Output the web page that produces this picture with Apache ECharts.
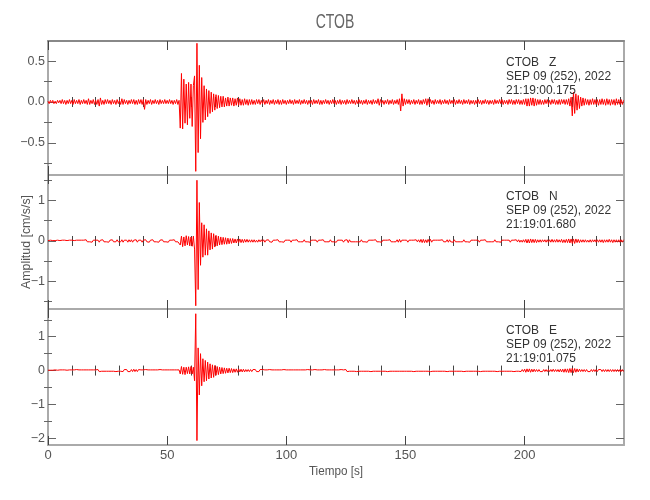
<!DOCTYPE html>
<html>
<head>
<meta charset="utf-8">
<script src="https://cdn.jsdelivr.net/npm/echarts@6/dist/echarts.min.js"></script>
<style>html,body{margin:0;padding:0;background:#fff}#c{width:650px;height:500px}</style>
</head>
<body>
<div id="c"></div>
<script>
// ---- data ----
const DT = 0.5;            // sample step of the arrays below [s]
const X_MAX = 241.7;
const xMajorTicks = [0, 50, 100, 150, 200];
const xMinorTicks = [10,20,30,40,60,70,80,90,110,120,130,140,160,170,180,190,210,220,230,240];
const panelTitles = ['CTOB   Z', 'CTOB   N', 'CTOB   E'];
const panelDates = ['SEP 09 (252), 2022', 'SEP 09 (252), 2022', 'SEP 09 (252), 2022'];
const panelTimes = ['21:19:00.175', '21:19:01.680', '21:19:01.075'];

const traceZ = [
0.01,-0.02,0.02,-0.01,0.02,-0.02,0.01,-0.02,0.02,-0.01,
0.02,-0.02,0.03,-0.02,0.02,-0.03,0.02,-0.02,0.03,-0.02,
0.02,-0.03,0.03,-0.02,0.02,-0.02,0.03,-0.03,0.02,-0.02,
0.03,-0.02,0.02,-0.03,0.04,-0.03,0.02,-0.02,0.03,-0.03,
0.02,-0.03,0.03,-0.05,0.05,-0.03,0.02,-0.03,0.03,-0.02,
0.03,-0.02,0.02,-0.03,0.03,-0.02,0.02,-0.03,0.03,-0.02,
0.02,-0.03,0.04,-0.03,0.03,-0.02,0.02,-0.03,0.02,-0.02,
0.03,-0.02,0.03,-0.03,0.02,-0.03,0.03,-0.02,0.03,-0.03,
0.03,-0.09,0.03,-0.03,0.02,-0.02,0.03,-0.03,0.02,-0.02,
0.03,-0.02,0.02,-0.03,0.03,-0.02,0.02,-0.02,0.03,-0.02,
0.02,-0.02,0.03,-0.02,0.02,-0.03,0.02,-0.02,0.03,-0.03,
0.02,-0.32,0.35,-0.33,0.28,-0.26,0.22,-0.28,0.24,-0.2,
0.22,-0.3,0.2,0.32,-0.85,0.72,-0.62,0.45,-0.45,0.3,
-0.25,0.2,-0.22,0.16,-0.18,0.14,-0.14,0.12,-0.12,0.1,
-0.1,0.09,-0.08,0.08,-0.07,0.07,-0.06,0.07,-0.06,0.05,
-0.05,0.06,-0.05,0.05,-0.04,0.05,-0.05,0.04,-0.04,0.05,
-0.04,0.04,-0.04,0.03,-0.04,0.04,-0.03,0.03,-0.04,0.03,
-0.03,0.03,-0.03,0.02,-0.03,0.03,-0.02,0.03,-0.03,0.02,
-0.02,0.03,-0.03,0.02,-0.02,0.03,-0.03,0.02,-0.02,0.03,
-0.03,0.02,-0.02,0.03,-0.03,0.02,-0.03,0.03,-0.02,0.02,
-0.03,0.02,-0.02,0.03,-0.02,0.02,-0.03,0.03,-0.02,0.02,
-0.02,0.03,-0.03,0.02,-0.02,0.03,-0.02,0.02,-0.03,0.02,
-0.02,0.02,-0.03,0.03,-0.02,0.02,-0.02,0.03,-0.03,0.02,
-0.03,0.02,-0.02,0.03,-0.02,0.02,-0.03,0.02,-0.02,0.03,
-0.02,0.02,-0.03,0.02,-0.02,0.03,-0.03,0.02,-0.02,0.02,
-0.03,0.03,-0.02,0.02,-0.02,0.03,-0.02,0.02,-0.03,0.02,
-0.02,0.03,-0.02,0.02,-0.03,0.02,-0.02,0.03,-0.03,0.02,
-0.02,0.02,-0.03,0.03,-0.02,0.02,-0.02,0.04,-0.04,0.03,
-0.02,0.02,-0.03,0.02,-0.02,0.03,-0.03,0.02,-0.02,0.03,
-0.03,0.02,-0.02,0.03,-0.03,0.04,-0.11,0.1,-0.05,0.04,
-0.03,0.03,-0.02,0.03,-0.03,0.02,-0.02,0.03,-0.03,0.02,
-0.02,0.03,-0.03,0.02,-0.03,0.03,-0.02,0.04,-0.04,0.04,
-0.03,0.03,-0.02,0.02,-0.03,0.03,-0.02,0.02,-0.02,0.03,
-0.03,0.02,-0.02,0.03,-0.02,0.02,-0.03,0.03,-0.02,0.02,
-0.02,0.03,-0.03,0.02,-0.02,0.03,-0.02,0.02,-0.03,0.03,
-0.02,0.02,-0.02,0.03,-0.03,0.02,-0.02,0.02,-0.03,0.02,
-0.02,0.03,-0.02,0.02,-0.03,0.02,-0.02,0.03,-0.02,0.02,
-0.03,0.02,-0.02,0.02,-0.03,0.03,-0.02,0.02,-0.02,0.03,
-0.02,0.03,-0.03,0.02,-0.02,0.02,-0.03,0.03,-0.02,0.03,
-0.03,0.02,-0.03,0.03,-0.02,0.03,-0.03,0.02,-0.03,0.03,
-0.03,0.04,-0.05,0.04,-0.05,0.05,-0.04,0.05,-0.05,0.04,
-0.04,0.03,-0.03,0.03,-0.03,0.02,-0.03,0.03,-0.02,0.03,
-0.03,0.02,-0.03,0.03,-0.02,0.03,-0.03,0.02,-0.03,0.03,
-0.03,0.03,-0.02,0.03,-0.03,0.03,-0.03,0.04,-0.05,0.06,
-0.17,0.12,-0.14,0.1,-0.1,0.08,-0.08,0.06,-0.05,0.05,
-0.04,0.04,-0.03,0.03,-0.04,0.03,-0.03,0.04,-0.03,0.03,
-0.03,0.03,-0.04,0.03,-0.03,0.04,-0.03,0.03,-0.04,0.04,
-0.03,0.03,-0.04,0.03,-0.03,0.03,-0.04,0.04,-0.03,0.03,
-0.03,0.03,-0.03,0.02
];

const traceN = [
0.01,-0.01,0.02,-0.01,0.01,-0.02,0.01,-0.01,0.02,-0.01,
0.01,-0.02,0.02,-0.01,0.02,-0.02,0.01,-0.02,0.02,-0.01,
0.02,-0.02,0.01,-0.02,0.02,-0.01,0.02,-0.02,0.02,-0.02,
0.02,-0.02,0.03,-0.02,0.02,-0.02,0.02,-0.03,0.02,-0.02,
0.02,-0.02,0.02,-0.03,0.02,-0.02,0.03,-0.02,0.02,-0.02,
0.02,-0.03,0.02,-0.02,0.03,-0.02,0.02,-0.02,0.03,-0.02,
0.02,-0.02,0.03,-0.03,0.02,-0.02,0.02,-0.03,0.03,-0.02,
0.03,-0.03,0.02,-0.02,0.03,-0.03,0.02,-0.02,0.02,-0.03,
0.02,-0.02,0.03,-0.02,0.02,-0.03,0.02,-0.02,0.03,-0.02,
0.02,-0.02,0.02,-0.03,0.02,-0.02,0.03,-0.02,0.02,-0.02,
0.02,-0.03,0.02,-0.02,0.02,-0.02,0.03,-0.02,0.02,-0.02,
0.02,-0.1,0.12,-0.14,0.1,-0.12,0.13,-0.1,0.11,-0.12,
0.1,-0.13,0.12,-0.2,-1.6,1.5,-1.2,0.95,-0.6,0.45,
-0.4,0.4,-0.35,0.3,-0.35,0.25,-0.22,0.2,-0.2,0.18,
-0.15,0.14,-0.12,0.12,-0.1,0.1,-0.09,0.09,-0.08,0.08,
-0.08,0.07,-0.07,0.06,-0.06,0.06,-0.05,0.05,-0.05,0.05,
-0.04,0.05,-0.04,0.04,-0.04,0.04,-0.03,0.04,-0.03,0.03,
-0.03,0.03,-0.03,0.03,-0.03,0.02,-0.03,0.03,-0.02,0.03,
-0.02,0.03,-0.03,0.02,-0.02,0.03,-0.02,0.02,-0.03,0.02,
-0.02,0.02,-0.02,0.03,-0.02,0.02,-0.02,0.02,-0.03,0.02,
-0.02,0.02,-0.02,0.02,-0.03,0.02,-0.02,0.02,-0.02,0.03,
-0.02,0.02,-0.02,0.02,-0.02,0.03,-0.02,0.02,-0.02,0.02,
-0.03,0.02,-0.02,0.02,-0.02,0.02,-0.03,0.02,-0.02,0.02,
-0.02,0.03,-0.02,0.02,-0.02,0.02,-0.02,0.03,-0.02,0.02,
-0.02,0.02,-0.03,0.02,-0.02,0.02,-0.02,0.02,-0.03,0.02,
-0.02,0.03,-0.04,0.03,-0.02,0.02,-0.02,0.02,-0.02,0.02,
-0.02,0.02,-0.02,0.03,-0.02,0.02,-0.02,0.02,-0.03,0.02,
-0.02,0.02,-0.02,0.02,-0.02,0.03,-0.02,0.02,-0.02,0.02,
-0.03,0.02,-0.02,0.02,-0.02,0.02,-0.02,0.03,-0.02,0.02,
-0.02,0.02,-0.02,0.03,-0.03,0.04,-0.03,0.02,-0.02,0.02,
-0.02,0.02,-0.03,0.02,-0.02,0.02,-0.02,0.02,-0.02,0.03,
-0.02,0.03,-0.03,0.04,-0.04,0.04,-0.04,0.03,-0.04,0.04,
-0.03,0.04,-0.03,0.02,-0.02,0.02,-0.02,0.02,-0.02,0.02,
-0.02,0.03,-0.02,0.02,-0.02,0.03,-0.03,0.03,-0.02,0.02,
-0.03,0.03,-0.02,0.02,-0.02,0.02,-0.02,0.02,-0.02,0.03,
-0.02,0.02,-0.02,0.02,-0.03,0.02,-0.02,0.02,-0.02,0.02,
-0.02,0.02,-0.03,0.02,-0.02,0.02,-0.02,0.03,-0.02,0.02,
-0.02,0.02,-0.02,0.02,-0.02,0.03,-0.02,0.02,-0.02,0.02,
-0.03,0.02,-0.02,0.02,-0.02,0.02,-0.02,0.02,-0.03,0.02,
-0.02,0.02,-0.02,0.03,-0.02,0.03,-0.03,0.02,-0.03,0.03,
-0.03,0.04,-0.05,0.04,-0.05,0.05,-0.04,0.04,-0.04,0.04,
-0.04,0.03,-0.03,0.03,-0.03,0.03,-0.02,0.03,-0.03,0.03,
-0.03,0.03,-0.03,0.04,-0.03,0.03,-0.03,0.04,-0.03,0.03,
-0.03,0.04,-0.04,0.03,-0.04,0.04,-0.04,0.05,-0.05,0.05,
-0.06,0.05,-0.06,0.05,-0.04,0.04,-0.04,0.03,-0.03,0.03,
-0.03,0.03,-0.03,0.02,-0.03,0.03,-0.03,0.03,-0.02,0.03,
-0.03,0.03,-0.03,0.03,-0.03,0.03,-0.04,0.03,-0.03,0.03,
-0.03,0.04,-0.03,0.03,-0.04,0.03,-0.03,0.03,-0.03,0.03,
-0.03,0.03,-0.03,0.03
];

const traceE = [
0.01,-0.01,0.01,-0.02,0.01,-0.01,0.02,-0.01,0.01,-0.01,
0.02,-0.02,0.02,-0.01,0.02,-0.02,0.01,-0.02,0.02,-0.02,
0.02,-0.02,0.02,-0.02,0.03,-0.02,0.02,-0.02,0.02,-0.02,
0.02,-0.02,0.02,-0.02,0.02,-0.03,0.02,-0.02,0.02,-0.02,
0.02,-0.03,0.03,-0.03,0.02,-0.02,0.02,-0.02,0.02,-0.02,
0.02,-0.02,0.03,-0.02,0.02,-0.02,0.02,-0.03,0.02,-0.02,
0.02,-0.02,0.02,-0.03,0.03,-0.02,0.03,-0.03,0.02,-0.03,
0.03,-0.03,0.04,-0.03,0.03,-0.03,0.03,-0.02,0.02,-0.02,
0.02,-0.02,0.03,-0.02,0.02,-0.02,0.02,-0.02,0.02,-0.03,
0.02,-0.02,0.02,-0.02,0.03,-0.02,0.02,-0.02,0.02,-0.02,
0.02,-0.02,0.02,-0.02,0.02,-0.03,0.02,-0.02,0.02,-0.02,
0.02,-0.1,0.12,-0.11,0.1,-0.12,0.1,-0.09,0.11,-0.1,
0.12,-0.1,0.1,-0.3,1.68,-2.07,0.67,-0.72,0.5,-0.45,
0.35,-0.33,0.3,-0.3,0.25,-0.25,0.2,-0.22,0.17,-0.2,
0.15,-0.14,0.12,-0.12,0.1,-0.1,0.09,-0.09,0.08,-0.08,
0.07,-0.07,0.07,-0.06,0.06,-0.06,0.05,-0.05,0.05,-0.05,
0.05,-0.04,0.04,-0.04,0.04,-0.04,0.03,-0.03,0.03,-0.03,
0.03,-0.03,0.03,-0.02,0.03,-0.03,0.02,-0.03,0.03,-0.02,
0.03,-0.02,0.02,-0.03,0.02,-0.02,0.03,-0.02,0.02,-0.02,
0.02,-0.02,0.02,-0.03,0.02,-0.02,0.02,-0.02,0.03,-0.02,
0.02,-0.02,0.02,-0.02,0.02,-0.03,0.02,-0.02,0.02,-0.02,
0.02,-0.03,0.02,-0.02,0.02,-0.02,0.02,-0.02,0.03,-0.02,
0.02,-0.02,0.02,-0.02,0.03,-0.02,0.02,-0.02,0.02,-0.02,
0.02,-0.02,0.03,-0.02,0.02,-0.02,0.02,-0.03,0.02,-0.02,
0.02,-0.02,0.02,-0.02,0.02,-0.02,0.03,-0.02,0.02,-0.02,
0.03,-0.03,0.02,-0.02,0.02,-0.02,0.02,-0.02,0.02,-0.03,
0.02,-0.02,0.02,-0.02,0.03,-0.02,0.02,-0.02,0.02,-0.02,
0.02,-0.03,0.02,-0.02,0.02,-0.02,0.02,-0.02,0.03,-0.02,
0.02,-0.02,0.02,-0.02,0.02,-0.03,0.02,-0.02,0.02,-0.02,
0.02,-0.02,0.03,-0.02,0.02,-0.02,0.02,-0.02,0.02,-0.02,
0.03,-0.02,0.02,-0.02,0.02,-0.02,0.02,-0.03,0.02,-0.02,
0.02,-0.02,0.02,-0.02,0.03,-0.02,0.02,-0.02,0.02,-0.02,
0.02,-0.03,0.02,-0.02,0.02,-0.02,0.02,-0.02,0.03,-0.02,
0.02,-0.02,0.02,-0.02,0.02,-0.03,0.02,-0.02,0.02,-0.02,
0.02,-0.02,0.03,-0.02,0.02,-0.02,0.02,-0.02,0.02,-0.03,
0.02,-0.02,0.02,-0.02,0.02,-0.02,0.03,-0.02,0.02,-0.02,
0.02,-0.02,0.02,-0.03,0.02,-0.02,0.02,-0.02,0.02,-0.02,
0.03,-0.02,0.02,-0.02,0.02,-0.02,0.02,-0.03,0.02,-0.02,
0.02,-0.02,0.02,-0.02,0.03,-0.02,0.02,-0.02,0.02,-0.02,
0.02,-0.03,0.02,-0.02,0.02,-0.02,0.03,-0.03,0.03,-0.03,
0.04,-0.05,0.05,-0.04,0.05,-0.05,0.04,-0.04,0.04,-0.03,
0.03,-0.03,0.03,-0.03,0.02,-0.03,0.03,-0.03,0.03,-0.03,
0.03,-0.03,0.03,-0.03,0.04,-0.03,0.03,-0.03,0.03,-0.04,
0.04,-0.04,0.04,-0.05,0.05,-0.05,0.05,-0.06,0.06,-0.06,
0.07,-0.06,0.06,-0.05,0.05,-0.04,0.04,-0.03,0.03,-0.03,
0.03,-0.03,0.03,-0.03,0.02,-0.03,0.03,-0.03,0.03,-0.03,
0.03,-0.03,0.03,-0.02,0.03,-0.03,0.03,-0.03,0.03,-0.03,
0.03,-0.03,0.03,-0.03,0.03,-0.03,0.03,-0.03,0.03,-0.03,
0.03,-0.03,0.03,-0.03
];

const yRanges = [[-0.895, 0.748], [-1.68, 1.63], [-2.2, 1.82]];
const yMajorTicks = [[-0.5, 0, 0.5], [-1, 0, 1], [-2, -1, 0, 1]];
const yMinorTicks = [[-0.75, -0.25, 0.25, 0.75], [-1.5, -0.5, 0.5, 1.5], [-1.5, -0.5, 0.5, 1.5]];
const traces = [traceZ, traceN, traceE];

// ---- layout ----
const FONT = "'Liberation Sans', sans-serif";
const panels = [{top: 41, height: 134}, {top: 175, height: 134}, {top: 309, height: 136}];
const LEFT = 48, WIDTH = 576;
const FRAME = '#aaaaaa', TICK = '#444444', TXT = '#555555';

const grids = panels.map(p => ({left: LEFT, width: WIDTH, top: p.top, height: p.height}));

function fmtY(panel) {
  return v => {
    let s = panel === 0 ? Math.abs(v).toFixed(1) : String(Math.abs(v));
    return (v < 0 ? '\u2212' : '') + s;
  };
}

const xAxes = [], yAxes = [];
panels.forEach((p, g) => {
  const base = {type: 'value', gridIndex: g, min: 0, max: X_MAX, splitLine: {show: false}, axisPointer: {show: false}};
  const line = (c) => ({show: true, onZero: false, lineStyle: {color: c, width: 2}});
  xAxes.push(Object.assign({}, base, {
    position: 'bottom', axisLine: line(FRAME),
    axisTick: {show: true, inside: true, length: 9, customValues: xMajorTicks, lineStyle: {color: TICK}},
    axisLabel: {show: g === 2, customValues: xMajorTicks, margin: 4, color: TXT, fontSize: 13, fontFamily: FONT}
  }));
  xAxes.push(Object.assign({}, base, {
    position: 'top', axisLine: line(g === 0 ? '#888888' : FRAME),
    axisTick: {show: true, inside: true, length: 9, customValues: xMajorTicks, lineStyle: {color: TICK}},
    axisLabel: {show: false}
  }));
  xAxes.push(Object.assign({}, base, {
    position: 'bottom', axisLine: {show: false},
    axisTick: {show: true, inside: true, length: 5, customValues: xMinorTicks, lineStyle: {color: TICK}},
    axisLabel: {show: false}
  }));
  xAxes.push(Object.assign({}, base, {
    position: 'top', axisLine: {show: false},
    axisTick: {show: true, inside: true, length: 5, customValues: xMinorTicks, lineStyle: {color: TICK}},
    axisLabel: {show: false}
  }));
  const yb = {type: 'value', gridIndex: g, min: yRanges[g][0], max: yRanges[g][1], splitLine: {show: false}};
  yAxes.push(Object.assign({}, yb, {
    position: 'left', axisLine: line(FRAME),
    axisTick: {show: true, inside: true, length: 8, customValues: yMajorTicks[g], lineStyle: {color: '#666666'}},
    axisLabel: {show: true, customValues: yMajorTicks[g], formatter: fmtY(g), margin: 3, color: TXT, fontSize: 12.5, fontFamily: FONT}
  }));
  yAxes.push(Object.assign({}, yb, {
    position: 'right', axisLine: line(FRAME),
    axisTick: {show: true, inside: true, length: 8, customValues: yMajorTicks[g], lineStyle: {color: '#666666'}},
    axisLabel: {show: false}
  }));
  yAxes.push(Object.assign({}, yb, {
    position: 'left', axisLine: {show: false},
    axisTick: {show: true, inside: true, length: 4, customValues: yMinorTicks[g], lineStyle: {color: '#666666'}},
    axisLabel: {show: false}
  }));
  yAxes.push(Object.assign({}, yb, {
    position: 'right', axisLine: {show: false},
    axisTick: {show: true, inside: true, length: 4, customValues: yMinorTicks[g], lineStyle: {color: '#666666'}},
    axisLabel: {show: false}
  }));
});

const series = traces.map((tr, g) => ({
  type: 'line',
  xAxisIndex: g * 4,
  yAxisIndex: g * 4,
  data: tr.map((v, i) => [i * DT, v]),
  showSymbol: false,
  symbol: 'none',
  lineStyle: {color: '#ff0000', width: 1},
  silent: true,
  z: 1
}));

const graphics = [
  {type: 'text', x: 335, y: 22, scaleX: 0.7, style: {text: 'CTOB', fontSize: 20, fontFamily: FONT, fill: '#666666', align: 'center', verticalAlign: 'middle'}},
  {type: 'text', x: 26, y: 242, rotation: Math.PI / 2, scaleX: 0.95, style: {text: 'Amplitud [cm/s/s]', fontSize: 13, fontFamily: FONT, fill: TXT, align: 'center', verticalAlign: 'middle'}},
  {type: 'text', x: 336, y: 471, scaleX: 0.9, style: {text: 'Tiempo [s]', fontSize: 13, fontFamily: FONT, fill: TXT, align: 'center', verticalAlign: 'middle'}}
];
panels.forEach((p, g) => {
  const lines = [panelTitles[g], panelDates[g], panelTimes[g]];
  lines.forEach((t, k) => {
    graphics.push({type: 'text', x: 506, y: p.top + 21 + k * 14.3, scaleX: 0.92,
      style: {text: t, fontSize: 13, fontFamily: FONT, fill: '#333333', align: 'left', verticalAlign: 'middle'}, z: 10});
  });
});

const chart = echarts.init(document.getElementById('c'), null, {renderer: 'canvas'});
chart.setOption({
  backgroundColor: '#ffffff',
  animation: false,
  grid: grids,
  xAxis: xAxes,
  yAxis: yAxes,
  series: series,
  graphic: graphics
});
</script>
</body>
</html>
